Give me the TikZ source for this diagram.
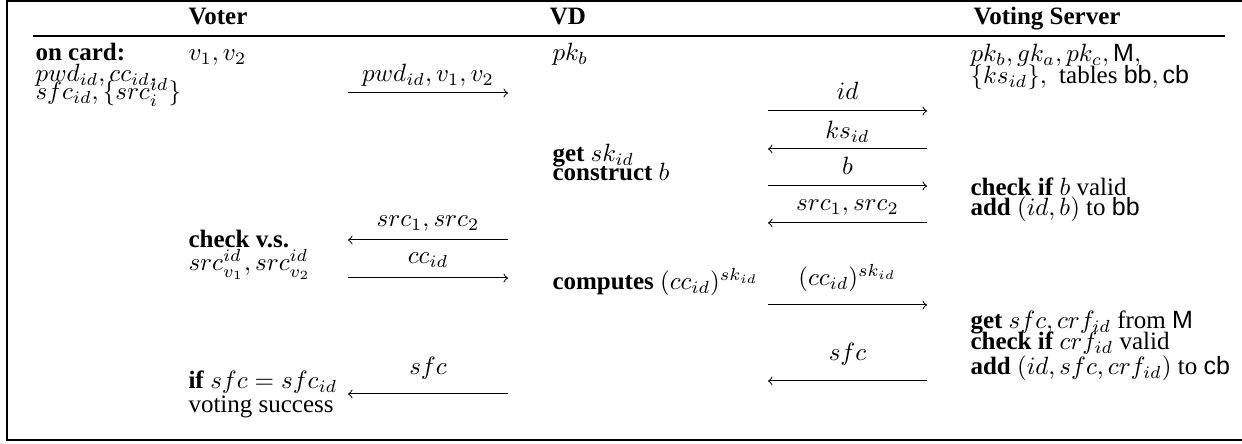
\documentclass[tikz,border=0pt]{standalone}
\usepackage[no-math]{fontspec}
\setmainfont{Liberation Serif}
\setsansfont{Liberation Sans}
\newcommand{\tbs}[1]{\textsf{#1}}
\tikzset{
    HD/.style ={anchor=base, inner sep=0pt, font=\bfseries},
    TX/.style ={anchor=base west, inner sep=0pt},
    MS/.style ={-to, line width=0.4pt},
    LB/.style ={midway, anchor=base, inner sep=0pt}}

\begin{document}
\begin{tikzpicture}[x=0.4pt,y=-0.4pt]
        \useasboundingbox (0,0) rectangle (1242,444);
        \draw[line width=0.45pt] (1242,1) -- (7,1) -- (7,440) -- (1242,440);
        \draw[line width=0.5pt] (33,36) -- (1225,36);
        % headers
        \node[HD] (vt) at (218,25){Voter};
        \node[HD] (vd) at (568,25){VD};
        \node[HD] (vs) at (1047,25){Voting Server};
        % voter side
        \node[TX] (card) at (35,61){\textbf{on card:}};
        \node[TX] (card1) at (35,82){$pwd_{id}, cc_{id},$};
        \node[TX] (card2) at (35,100){$sfc_{id}, \{src_i^{id}\}$};
        \node[TX] (vv) at (188,61){$v_1, v_2$};
        \node[TX] (chk1) at (188,248){\textbf{check v.s.}};
        \node[TX] (chk2) at (188,271){$src_{v_1}^{id}, src_{v_2}^{id}$};
        \node[TX] (fin1) at (188,389){\textbf{if} $sfc = sfc_{id}$};
        \node[TX] (fin2) at (188,413){voting success};
        % device
        \node[TX] (pkb) at (552,61){$pk_b$};
        \node[TX] (get) at (552,162){\textbf{get} $sk_{id}$};
        \node[TX] (cons) at (552,181){\textbf{construct} $b$};
        \node[TX] (comp) at (552,290){\textbf{computes} $(cc_{id})^{sk_{id}}$};
        % server
        \node[TX] (srv1) at (970,62){$pk_b, gk_a, pk_c, \tbs{M},$};
        \node[TX] (srv2) at (970,84){$\{ks_{id}\},$~ tables $\tbs{bb}, \tbs{cb}$};
        \node[TX] (val1) at (970,196){\textbf{check if} $b$ valid};
        \node[TX] (val2) at (970,216){\textbf{add} $(id, b)$ to \tbs{bb}};
        \node[TX] (cf1) at (970,329){\textbf{get} $sfc, crf_{id}$ from \tbs{M}};
        \node[TX] (cf2) at (970,350){\textbf{check if} $crf_{id}$ valid};
        \node[TX] (cf3) at (970,375){\textbf{add} $(id, sfc, crf_{id})$ to \tbs{cb}};
        % arrow ends
        \coordinate (l1) at (348,93);  \coordinate (r1) at (508,93);
        \coordinate (l2) at (768,111); \coordinate (r2) at (927,111);
        \coordinate (l3) at (768,149); \coordinate (r3) at (927,149);
        \coordinate (l4) at (768,186); \coordinate (r4) at (927,186);
        \coordinate (l5) at (768,223); \coordinate (r5) at (927,223);
        \coordinate (l6) at (348,240); \coordinate (r6) at (508,240);
        \coordinate (l7) at (348,278); \coordinate (r7) at (508,278);
        \coordinate (l8) at (768,305); \coordinate (r8) at (927,305);
        \coordinate (l9) at (768,381); \coordinate (r9) at (927,381);
        \coordinate (l10) at (348,394); \coordinate (r10) at (508,394);
        % messages
        \draw[MS] (l1) -- (r1) node[LB,yshift=4.4pt]{$pwd_{id}, v_1, v_2$};
        \draw[MS] (l2) -- (r2) node[LB,yshift=4.4pt]{$id$};
        \draw[MS] (r3) -- (l3) node[LB,yshift=4pt]{$ks_{id}$};
        \draw[MS] (l4) -- (r4) node[LB,yshift=4.4pt]{$b$};
        \draw[MS] (r5) -- (l5) node[LB,yshift=4.8pt]{$src_1, src_2$};
        \draw[MS] (r6) -- (l6) node[LB,yshift=5.2pt]{$src_1, src_2$};
        \draw[MS] (l7) -- (r7) node[LB,yshift=5.6pt]{$cc_{id}$};
        \draw[MS] (l8) -- (r8) node[LB,yshift=7.6pt]{$(cc_{id})^{sk_{id}}$};
        \draw[MS] (r9) -- (l9) node[LB,yshift=8pt]{$sfc$};
        \draw[MS] (r10) -- (l10) node[LB,yshift=7.6pt]{$sfc$};
    \end{tikzpicture}
\end{document}
